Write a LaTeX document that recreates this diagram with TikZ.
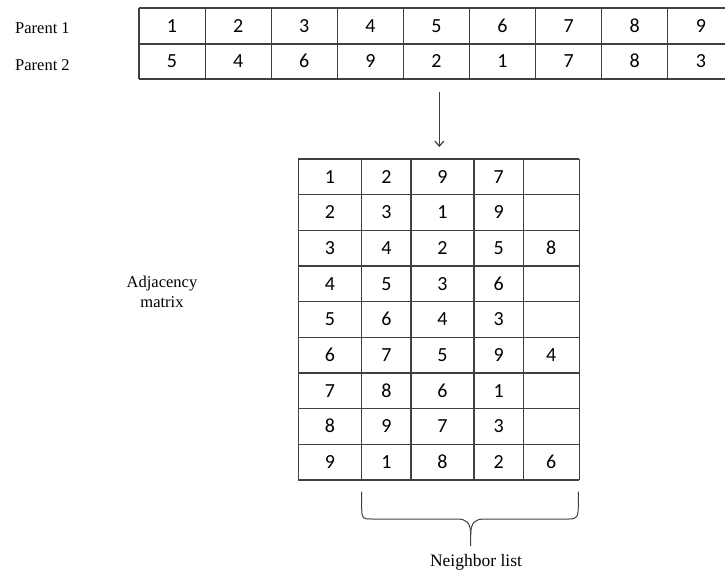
\documentclass[tikz,border=0pt]{standalone}
\usepackage{fontspec}
\setmainfont{Liberation Serif}
\newfontfamily\calfont{Carlito}
\usetikzlibrary{arrows.meta}
\begin{document}
\begin{tikzpicture}[x=1pt,y=-1pt,
  gridline/.style={draw=black!75,line width=1.2pt},
  numfont/.style={font=\calfont\fontsize{20}{20}\selectfont,text height=12.6pt,text depth=0pt},
  pcell/.style={numfont,inner sep=0pt,minimum width=66.1pt,minimum height=35.5pt},
  mcell/.style={numfont,inner sep=0pt,minimum height=35.67pt},
  lbl/.style={inner sep=0pt,font=\fontsize{16.5}{20}\selectfont},
  conn/.style={draw=black!75,line width=1.2pt}]
\useasboundingbox (0,0) rectangle (725,572);
\clip (0,0) rectangle (725,572);
% Parent labels
\node[lbl,anchor=west] (p1lab) at (15,28) {Parent 1};
\node[lbl,anchor=west] (p2lab) at (15,65) {Parent 2};
% Parent table
\foreach \v [count=\i] in {1,2,3,4,5,6,7,8,9}{
  \node[pcell] (pa\i) at ({139+66.1*(\i-0.5)},26) {\v};
}
\foreach \v [count=\i] in {5,4,6,9,2,1,7,8,3}{
  \node[pcell] (pb\i) at ({139+66.1*(\i-0.5)},61.5) {\v};
}
\foreach \yy in {8,44,79}{\draw[gridline] (139,\yy) -- (740,\yy);}
\foreach \i in {0,...,9}{\draw[gridline] ({139+66.1*\i},8) -- ({139+66.1*\i},79);}
% Arrow
\coordinate (arS) at (439.3,92);
\coordinate (arE) at (439.3,147);
\draw[conn,-{Straight Barb[length=5pt,width=9pt]}] (arS) -- (arE);
% Adjacency matrix
\node[lbl,align=center] (adj) at (162,292) {Adjacency\\matrix};
\foreach \a/\b/\c/\d/\e [count=\r] in {1/2/9/7/{},2/3/1/9/{},3/4/2/5/8,4/5/3/6/{},5/6/4/3/{},6/7/5/9/4,7/8/6/1/{},8/9/7/3/{},9/1/8/2/6}{
  \pgfmathsetmacro{\yy}{159+35.67*(\r-0.5)}
  \node[mcell,minimum width=63.4pt] (m\r c1) at (330,\yy) {\a};
  \node[mcell,minimum width=49.3pt] (m\r c2) at (386.35,\yy) {\b};
  \node[mcell,minimum width=63pt] (m\r c3) at (442.5,\yy) {\c};
  \node[mcell,minimum width=49.3pt] (m\r c4) at (498.65,\yy) {\d};
  \node[mcell,minimum width=56pt] (m\r c5) at (551.3,\yy) {\e};
}
\foreach \j in {0,...,9}{\draw[gridline] (298.3,{159+35.67*\j}) -- (579.3,{159+35.67*\j});}
\foreach \xx in {298.3,361.7,411,474,523.3,579.3}{\draw[gridline] (\xx,159) -- (\xx,480);}
% Brace
\coordinate (bL) at (361.7,491.7);
\coordinate (bR) at (578.3,491.7);
\coordinate (bT) at (470.7,546);
\draw[conn,line width=1pt] (bL) -- (361.7,508) .. controls (361.7,519) and (363,519) .. (372,519) -- (457,519) .. controls (466,519) and (470.7,522) .. (470.7,535) -- (bT);
\draw[conn,line width=1pt] (470.7,535) .. controls (470.7,522) and (475.4,519) .. (484.4,519) -- (569,519) .. controls (577,519) and (578.3,517) .. (578.3,505) -- (bR);
\node[lbl,font=\fontsize{17.5}{20}\selectfont] (nl) at (476,562) {Neighbor list};
\end{tikzpicture}
\end{document}
